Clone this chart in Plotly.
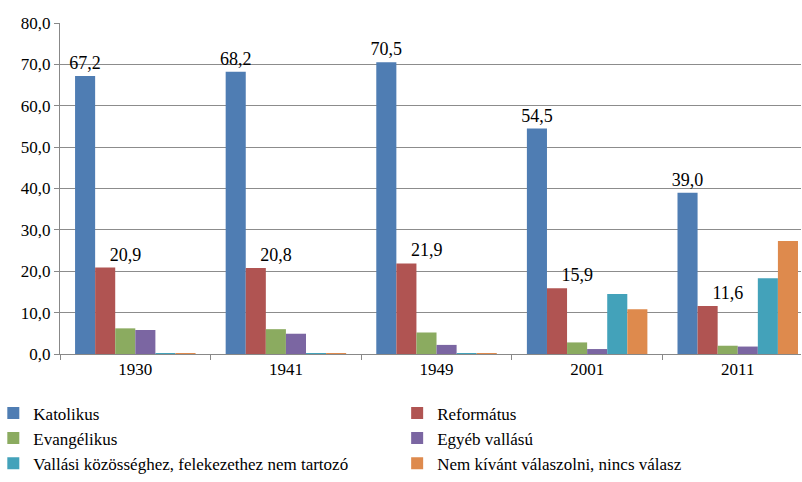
import plotly.graph_objects as go

years = ["1930", "1941", "1949", "2001", "2011"]
series_names = [
    "Katolikus",
    "Református",
    "Evangélikus",
    "Egyéb vallású",
    "Vallási közösséghez, felekezethez nem tartozó",
    "Nem kívánt válaszolni, nincs válasz",
]
katolikus = [67.2, 68.2, 70.5, 54.5, 39.0]
reformatus = [20.9, 20.8, 21.9, 15.9, 11.6]
evangelikus = [6.2, 6.0, 5.2, 2.8, 2.0]
egyeb = [5.8, 4.9, 2.2, 1.2, 1.8]
nem_tartozo = [0.2, 0.2, 0.2, 14.5, 18.3]
nincs_valasz = [0.2, 0.2, 0.2, 10.8, 27.3]
y_ticks = [0, 10, 20, 30, 40, 50, 60, 70, 80]

colors = ["#4F7DB3", "#B05452", "#8BAB60", "#7B66A2", "#43A2BA", "#DE8A4D"]
values = [katolikus, reformatus, evangelikus, egyeb, nem_tartozo, nincs_valasz]
legend_ids = ["legend", "legend2", "legend", "legend2", "legend", "legend2"]

FONT = "Liberation Serif"
NB = "\u00a0"


def fmt(v):
    return f"{v:.1f}".replace(".", ",")


label_texts = [
    [fmt(v) for v in katolikus],
    [NB * 9 + fmt(v) for v in reformatus],
    None, None, None, None,
]

fig = go.Figure()
for i, (name, vals, col) in enumerate(zip(series_names, values, colors)):
    kw = {}
    if label_texts[i] is not None:
        kw = dict(text=label_texts[i], textposition="outside", constraintext="none",
                  cliponaxis=False, textfont=dict(family=FONT, size=18, color="black"))
    fig.add_trace(go.Bar(x=years, y=vals, name=name, legend=legend_ids[i],
                         legendgroup=f"g{i}", hoverinfo="skip",
                         marker=dict(color=col, line=dict(width=0)), **kw))

leg_common = dict(orientation="v", yanchor="top", y=-0.125, xanchor="left",
                  font=dict(family=FONT, size=17, color="black"),
                  traceorder="normal", itemwidth=30, tracegroupgap=10,
                  bgcolor="rgba(0,0,0,0)")

fig.update_layout(
    width=802, height=482,
    margin=dict(l=60, r=1, t=23, b=128, autoexpand=False),
    paper_bgcolor="white", plot_bgcolor="white",
    barmode="group", bargap=0.2, bargroupgap=0,
    font=dict(family=FONT, size=17, color="black"),
    showlegend=True,
    legend=dict(x=-0.09, **leg_common),
    legend2=dict(x=0.455, **leg_common),
    uniformtext=dict(mode=False),
)
fig.update_xaxes(
    type="category", range=[-0.5, 4.42], showline=True, linecolor="#888", linewidth=1,
    ticks="outside", ticklen=5, tickcolor="#888", tickson="boundaries", showgrid=False,
    tickfont=dict(family=FONT, size=17, color="black"),
)
fig.update_yaxes(
    range=[0, 80], tickmode="array", tickvals=y_ticks, ticktext=[fmt(v) for v in y_ticks],
    showline=True, linecolor="#888",
    linewidth=1, ticks="outside", ticklen=5, tickcolor="#888", gridcolor="#8c8c8c",
    gridwidth=1, zeroline=False, tickfont=dict(family=FONT, size=17, color="black"),
)
fig.write_html("out.html", config={"displayModeBar": False},
               post_script="document.body.style.margin='0px';")
